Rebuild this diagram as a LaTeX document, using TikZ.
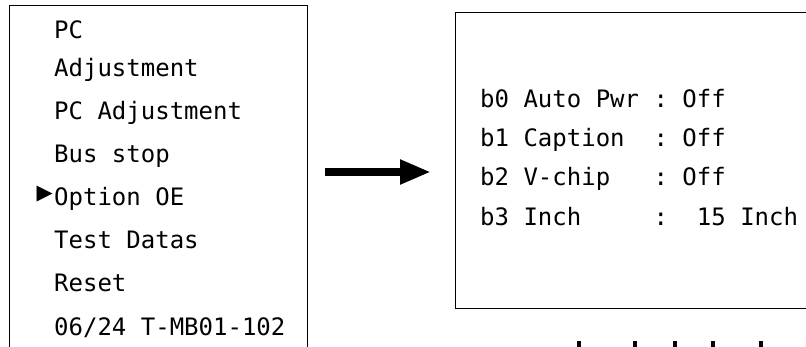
\documentclass[tikz,border=0pt]{standalone}
\usepackage{fontspec}
\usepackage{tikz}
\usetikzlibrary{arrows.meta,positioning}

\newfontfamily\osdfont{DejaVu Sans Mono}
\newfontfamily\osdsym{DejaVu Sans}

\tikzset{
    osdtext/.style={anchor=base west, inner sep=0pt,
        font=\osdfont\fontsize{24}{28}\selectfont},
    osdframe/.style={draw, line width=1.4pt, anchor=north west,
        inner sep=0pt, fill=white},
}

\begin{document}
\begin{tikzpicture}[x=1pt,y=-1pt]

    \useasboundingbox (0,0) rectangle (806,346);
    \clip (0,0) rectangle (806,346);
    \fill[white] (0,0) rectangle (806,346);

    % service menu (runs past the lower edge)
    \node[osdframe,
        minimum width=298pt,
        minimum height=380pt]
        (menu) at (9,5) {};

    \node[osdtext] (pc) at (54,38) {PC};
    \node[osdtext] (adj) at (54,76) {Adjustment};
    \node[osdtext] (pcadj) at (54,119) {PC~Adjustment};
    \node[osdtext] (bus) at (54,162) {Bus stop};
    \node[osdtext] (option) at (54,205) {Option OE};
    \node[anchor=east, inner sep=0pt,
        font=\osdsym\fontsize{21}{24}\selectfont]
        (pointer) at (53,194) {▶};
    \node[osdtext] (test) at (54,248) {Test Datas};
    \node[osdtext] (reset) at (54,291) {Reset};
    \node[osdtext] (version) at (54,335) {06/24 T-MB01-102};

    % option OE page (runs past the right edge)
    \node[osdframe,
        minimum width=380pt,
        minimum height=296pt]
        (optpage) at (455,12) {};

    \node[osdtext] (bzero) at (480,107) {b0~Auto~Pwr~:~Off};
    \node[osdtext] (bone) at (480,146) {b1~Caption~~:~Off};
    \node[osdtext] (btwo) at (480,185) {b2~V-chip~~~:~Off};
    \node[osdtext] (bthree) at (480,225) {b3~Inch~~~~~:~~15~Inch};

    \coordinate (arrfrom) at (325,172);
    \coordinate (arrto) at (431,172);
    \draw[line width=8pt,
        -{Triangle[length=31pt,width=23pt]}]
        (arrfrom) -- (arrto);

    % marks cut off at the lower edge
    \foreach \xpos in {577,633,673,711,759}
        \fill (\xpos,341) rectangle ++(4,6);

\end{tikzpicture}
\end{document}
